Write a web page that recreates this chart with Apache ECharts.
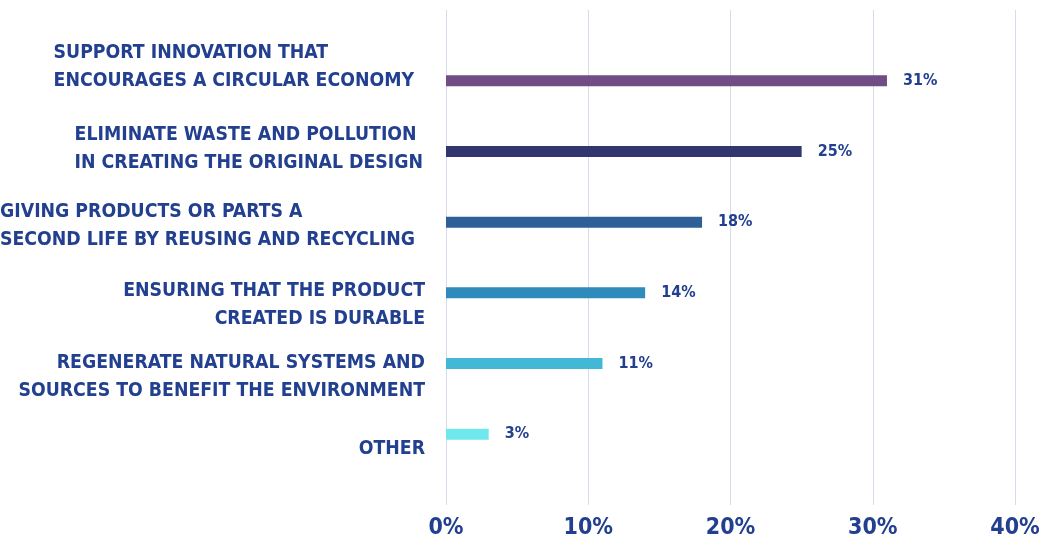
<!DOCTYPE html>
<html>
<head>
<meta charset="utf-8">
<script src="https://cdn.jsdelivr.net/npm/echarts@6/dist/echarts.min.js"></script>
<style>
html,body{margin:0;padding:0;background:#fff;}
#chart{width:1039px;height:538px;}
</style>
</head>
<body>
<div id="chart"></div>
<script>
var categories = [
	'SUPPORT INNOVATION THAT\nENCOURAGES A CIRCULAR ECONOMY',
	'ELIMINATE WASTE AND POLLUTION\nIN CREATING THE ORIGINAL DESIGN',
	'GIVING PRODUCTS OR PARTS A\nSECOND LIFE BY REUSING AND RECYCLING',
	'ENSURING THAT THE PRODUCT\nCREATED IS DURABLE',
	'REGENERATE NATURAL SYSTEMS AND\nSOURCES TO BENEFIT THE ENVIRONMENT',
	'OTHER'
];
var values = [31, 25, 18, 14, 11, 3];
var xTicks = [0, 10, 20, 30, 40];

var barColors = ['#714d85', '#30366e', '#2f5f97', '#2e8bbb', '#41b8d6', '#6ee8ec'];
var textColor = '#22408f';
var fontFam = '"Liberation Sans Narrow", "DejaVu Sans Condensed", sans-serif';

// label layout tweaks (per category): vertical shift in px, line alignment, right padding
var labelShift = [-14, -2, 4, 12, 13, 15];
var labelAlign = ['left', 'left', 'left', 'right', 'right', 'right'];
var labelPadR = [11, 2, 10, 0, 0, 0];

var rich = {};
for (var i = 0; i < categories.length; i++) {
	rich['t' + i] = {
		fontFamily: fontFam, fontWeight: 'bold', fontSize: 19.3, color: textColor,
		lineHeight: 28, align: labelAlign[i], padding: [0, labelPadR[i], 0, 0]
	};
	rich['s' + i] = { lineHeight: Math.abs(labelShift[i]) * 2, fontSize: 1 };
}

var yData = [''].concat(categories).concat(['']);
var barData = ['-'];
for (var j = 0; j < values.length; j++) {
	barData.push({ value: values[j], itemStyle: { color: barColors[j] } });
}
barData.push('-');

var chart = echarts.init(document.getElementById('chart'));
var option = {
	animation: false,
	grid: {
		left: 446,
		right: 24,
		top: 10,
		bottom: 33,
		containLabel: false,
		outerBoundsMode: 'none'
	},
	xAxis: {
		type: 'value',
		min: xTicks[0],
		max: xTicks[xTicks.length - 1],
		interval: 10,
		axisLine: { show: false },
		axisTick: { show: false },
		axisLabel: {
			formatter: '{value}%',
			color: textColor,
			fontFamily: fontFam,
			fontWeight: 'bold',
			fontSize: 23,
			margin: 12
		},
		splitLine: {
			lineStyle: { color: '#d9dbea', width: 1 }
		}
	},
	yAxis: {
		type: 'category',
		inverse: true,
		boundaryGap: false,
		data: yData,
		axisLine: { show: false },
		axisTick: { show: false },
		splitLine: { show: false },
		axisLabel: {
			margin: 21,
			interval: 0,
			formatter: function (value, index) {
				if (!value) return '';
				var k = index - 1;
				var lines = value.split('\n').map(function (l) { return '{t' + k + '|' + l + '}'; });
				if (labelShift[k] > 0) lines.unshift('{s' + k + '| }');
				else if (labelShift[k] < 0) lines.push('{s' + k + '| }');
				return lines.join('\n');
			},
			rich: rich
		}
	},
	series: [
		{
			type: 'bar',
			barWidth: 11,
			data: barData,
			label: {
				show: true,
				position: 'right',
				distance: 16,
				formatter: '{c}%',
				color: textColor,
				fontFamily: fontFam,
				fontWeight: 'bold',
				fontSize: 16
			}
		}
	]
};
chart.setOption(option);
</script>
</body>
</html>
